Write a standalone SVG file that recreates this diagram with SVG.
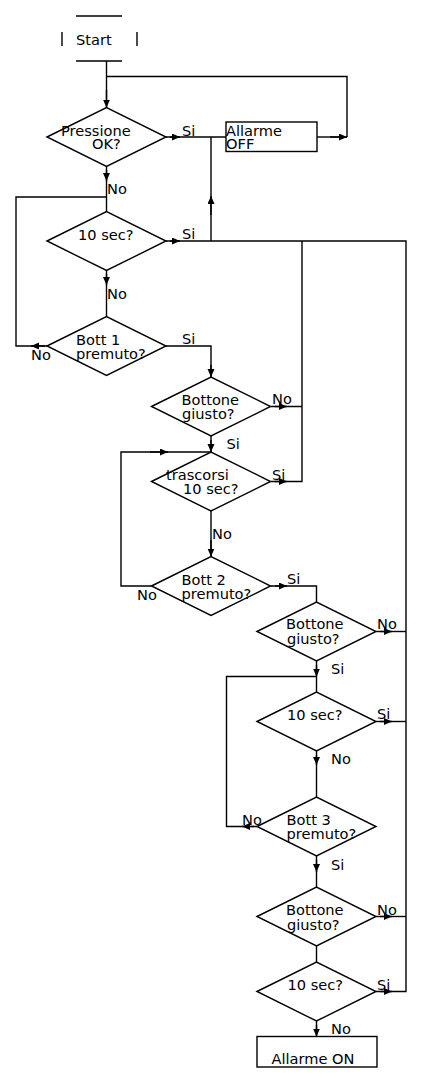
<svg xmlns="http://www.w3.org/2000/svg" width="423" height="1083" viewBox="0 0 423 1083">
<style>
  .s{fill:none;stroke:#000;stroke-width:1.4}
  .n{fill:#fff;stroke:#000;stroke-width:1.4}
  .a{fill:none;stroke:#000;stroke-width:1.4;marker-end:url(#ah)}
  text{font-family:"DejaVu Sans",sans-serif;font-size:14.6px;fill:#000}
</style>
<defs>
  <marker id="ah" markerUnits="userSpaceOnUse" markerWidth="9" markerHeight="8" refX="8" refY="3.5" orient="auto">
    <path d="M0,0 L8,3.5 L0,7 z" fill="#000"/>
  </marker>
</defs>
<rect width="423" height="1083" fill="#fff"/>
<g id="connectors">
  <path class="s" d="M106.5 61 V107.5"/>
  <path class="a" d="M106.5 90 V107.5"/>
  <path class="s" d="M106.5 76.5 H347 V137"/>
  <path class="s" d="M166 137 H226"/>
  <path class="a" d="M170 137 H180"/>
  <path class="s" d="M317 137 H347"/>
  <path class="a" d="M330 137 H347"/>
  <path class="s" d="M106.5 166.5 V211.5"/>
  <path class="a" d="M106.5 170 V181"/>
  <path class="s" d="M106.5 197 H16 V346 H47"/>
  <path class="a" d="M45 346 H31"/>
  <path class="s" d="M166 241 H406 V991.5 H376"/>
  <path class="a" d="M170 241 H180"/>
  <path class="s" d="M211 241 V137"/>
  <path class="a" d="M211 215 V196"/>
  <path class="s" d="M106.5 270.5 V316.5"/>
  <path class="a" d="M106.5 274 V285"/>
  <path class="s" d="M166 346 H211 V377"/>
  <path class="a" d="M211 365 V377"/>
  <path class="s" d="M270.5 406.5 H302 M302 241 V481.5 H270.5"/>
  <path class="a" d="M275 406.5 H287"/>
  <path class="a" d="M275 481.5 H287"/>
  <path class="s" d="M211 436 V452"/>
  <path class="a" d="M211 440 V452"/>
  <path class="s" d="M151.5 586 H121 V452 H211"/>
  <path class="a" d="M150 452 H168"/>
  <path class="s" d="M211 511 V556.5"/>
  <path class="a" d="M211 540 V556.5"/>
  <path class="s" d="M270.5 586 H316.5 V602"/>
  <path class="a" d="M275 586 H287"/>
  <path class="s" d="M376 631.5 H406"/>
  <path class="a" d="M380 631.5 H392"/>
  <path class="s" d="M316.5 661 V692"/>
  <path class="a" d="M316.5 665 V676.5"/>
  <path class="s" d="M257 826.5 H226.5 V676.5 H316.5"/>
  <path class="a" d="M254 826.5 H242"/>
  <path class="s" d="M376 721.5 H406"/>
  <path class="a" d="M380 721.5 H392"/>
  <path class="s" d="M316.5 751 V797"/>
  <path class="a" d="M316.5 755 V765"/>
  <path class="s" d="M316.5 856 V887"/>
  <path class="a" d="M316.5 860 V872"/>
  <path class="s" d="M376 916.5 H406"/>
  <path class="a" d="M380 916.5 H392"/>
  <path class="s" d="M316.5 946 V962"/>
  <path class="a" d="M380 991.5 H392"/>
  <path class="s" d="M316.5 1021 V1036.5"/>
  <path class="a" d="M316.5 1025 V1036.5"/>
</g>
<g id="labels">
  <text x="182" y="135.5">Si</text>
  <text x="107" y="194">No</text>
  <text x="182" y="239">Si</text>
  <text x="107" y="299">No</text>
  <text x="31" y="360">No</text>
  <text x="182" y="344">Si</text>
  <text x="272" y="404">No</text>
  <text x="226.5" y="449">Si</text>
  <text x="272" y="480">Si</text>
  <text x="212" y="539">No</text>
  <text x="137" y="600">No</text>
  <text x="287" y="584">Si</text>
  <text x="377" y="629">No</text>
  <text x="331" y="674">Si</text>
  <text x="377" y="719">Si</text>
  <text x="331" y="764">No</text>
  <text x="242" y="825">No</text>
  <text x="331" y="870">Si</text>
  <text x="377" y="915">No</text>
  <text x="377" y="990">Si</text>
  <text x="331" y="1034">No</text>
</g>
<g id="start">
  <path class="s" d="M76 16 H122 M76 61 H122 M62 32 V46 M137 32 V46"/>
  <text x="76" y="45">Start</text>
</g>
<g id="pressione">
  <path class="n" d="M47 137 L106.5 107.5 L166 137 L106.5 166.5 Z"/>
  <text x="61" y="135.5">Pressione</text>
  <text x="92" y="149">OK?</text>
</g>
<g id="allarme-off">
  <rect class="n" x="226" y="122" width="91" height="29.5"/>
  <text x="226" y="135.5">Allarme</text>
  <text x="226" y="149">OFF</text>
</g>
<g id="sec10-1">
  <path class="n" d="M47 241 L106.5 211.5 L166 241 L106.5 270.5 Z"/>
  <text x="78" y="240">10 sec?</text>
</g>
<g id="bott1">
  <path class="n" d="M47 346 L106.5 316.5 L166 346 L106.5 375.5 Z"/>
  <text x="76" y="345">Bott 1</text>
  <text x="76" y="359">premuto?</text>
</g>
<g id="bottone1">
  <path class="n" d="M151.5 406.5 L211 377 L270.5 406.5 L211 436 Z"/>
  <text x="181.5" y="405">Bottone</text>
  <text x="182" y="419">giusto?</text>
</g>
<g id="trascorsi">
  <path class="n" d="M151.5 481.5 L211 452 L270.5 481.5 L211 511 Z"/>
  <text x="166" y="480">trascorsi</text>
  <text x="183" y="494">10 sec?</text>
</g>
<g id="bott2">
  <path class="n" d="M151.5 586 L211 556.5 L270.5 586 L211 615.5 Z"/>
  <text x="181.5" y="585">Bott 2</text>
  <text x="181.5" y="599">premuto?</text>
</g>
<g id="bottone2">
  <path class="n" d="M257 631.5 L316.5 602 L376 631.5 L316.5 661 Z"/>
  <text x="286" y="629">Bottone</text>
  <text x="287" y="644">giusto?</text>
</g>
<g id="sec10-2">
  <path class="n" d="M257 721.5 L316.5 692 L376 721.5 L316.5 751 Z"/>
  <text x="287" y="720">10 sec?</text>
</g>
<g id="bott3">
  <path class="n" d="M257 826.5 L316.5 797 L376 826.5 L316.5 856 Z"/>
  <text x="286.5" y="825">Bott 3</text>
  <text x="286.5" y="839">premuto?</text>
</g>
<g id="bottone3">
  <path class="n" d="M257 916.5 L316.5 887 L376 916.5 L316.5 946 Z"/>
  <text x="286" y="915">Bottone</text>
  <text x="287" y="930">giusto?</text>
</g>
<g id="sec10-3">
  <path class="n" d="M257 991.5 L316.5 962 L376 991.5 L316.5 1021 Z"/>
  <text x="287.5" y="990">10 sec?</text>
</g>
<g id="allarme-on">
  <rect class="n" x="257" y="1036.5" width="120" height="30.5"/>
  <text x="271.5" y="1064">Allarme ON</text>
</g>
</svg>
